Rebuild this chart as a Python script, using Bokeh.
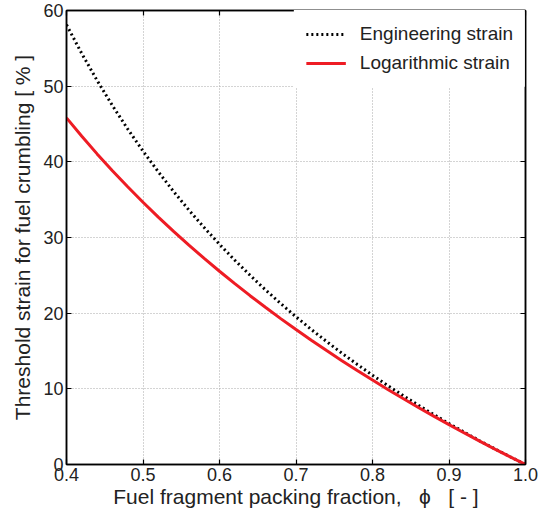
from bokeh.plotting import figure
from bokeh.models import LinearAxis, Range1d, Legend, LegendItem, FixedTicker, CustomJSTickFormatter
from bokeh.embed import file_html
from bokeh.resources import INLINE

phi = [0.40, 0.42, 0.44, 0.46, 0.48, 0.50, 0.52, 0.54, 0.56, 0.58, 0.60,
       0.62, 0.64, 0.66, 0.68, 0.70, 0.72, 0.74, 0.76, 0.78, 0.80,
       0.82, 0.84, 0.86, 0.88, 0.90, 0.92, 0.94, 0.96, 0.98, 1.00]
eng_strain = [58.11, 54.30, 50.76, 47.44, 44.34, 41.42, 38.68, 36.08, 33.63, 31.31, 29.10,
              27.00, 25.00, 23.09, 21.27, 19.52, 17.85, 16.25, 14.71, 13.23, 11.80,
              10.43, 9.11, 7.83, 6.60, 5.41, 4.26, 3.14, 2.06, 1.02, 0.00]
log_strain = [45.81, 43.38, 41.05, 38.83, 36.70, 34.66, 32.70, 30.81, 28.99, 27.24, 25.54,
              23.90, 22.31, 20.78, 19.28, 17.83, 16.43, 15.06, 13.72, 12.42, 11.16,
              9.92, 8.72, 7.54, 6.39, 5.27, 4.17, 3.09, 2.04, 1.01, 0.00]
x_ticks = [0.4, 0.5, 0.6, 0.7, 0.8, 0.9, 1.0]
x_tick_labels = {0.4: "0.4", 0.5: "0.5", 0.6: "0.6", 0.7: "0.7", 0.8: "0.8", 0.9: "0.9", 1.0: "1.0"}
y_ticks = [0, 10, 20, 30, 40, 50, 60]

FONT = "Liberation Sans"
NB = "\u00a0"

p = figure(frame_width=459, frame_height=454, output_backend="svg", toolbar_location=None,
           x_range=Range1d(0.4, 1.0), y_range=Range1d(0, 60),
           min_border_left=66, min_border_right=13, min_border_top=10, min_border_bottom=10)
p.outline_line_color = "black"
p.outline_line_width = 1.5

for ax in (p.xaxis[0], p.yaxis[0]):
    ax.major_tick_in = 5
    ax.major_tick_out = 0
    ax.minor_tick_in = 0
    ax.minor_tick_out = 0
    ax.axis_line_width = 1.5
    ax.major_tick_line_width = 1.2
    ax.major_label_text_font = FONT
    ax.major_label_text_font_size = "18px"
    ax.major_label_text_color = "#222222"
    ax.axis_label_text_font = FONT
    ax.axis_label_text_font_size = "21px"
    ax.axis_label_text_font_style = "normal"
    ax.axis_label_text_color = "#222222"
    ax.major_label_standoff = 3

p.xaxis.ticker = FixedTicker(ticks=x_ticks)
p.xaxis.major_label_overrides = x_tick_labels
p.yaxis.ticker = FixedTicker(ticks=y_ticks)
p.xaxis.axis_label = "Fuel fragment packing fraction," + NB * 3 + "\u03d5" + NB * 3 + "[" + NB + "-" + NB + "]"
p.yaxis.axis_label = "Threshold strain for fuel crumbling [ % ]"
p.xaxis.axis_label_standoff = 1
p.yaxis.axis_label_standoff = 6

for loc, ticks in (("above", x_ticks), ("right", y_ticks)):
    ax = LinearAxis(ticker=FixedTicker(ticks=ticks),
                    formatter=CustomJSTickFormatter(code="return ''"))
    ax.major_tick_in = 5
    ax.major_tick_out = 0
    ax.minor_tick_in = 0
    ax.minor_tick_out = 0
    ax.axis_line_width = 1.5
    ax.major_tick_line_width = 1.2
    ax.major_label_standoff = 0
    p.add_layout(ax, loc)

p.xgrid.ticker = FixedTicker(ticks=x_ticks)
p.ygrid.ticker = FixedTicker(ticks=y_ticks)
p.grid.grid_line_color = "#a8a8a8"
p.grid.grid_line_dash = "1 2"
p.grid.grid_line_width = 1

r_eng = p.line(phi, eng_strain, line_color="black", line_width=3, line_dash="2 3")
r_log = p.line(phi, log_strain, line_color="#ee1c24", line_width=3)

legend = Legend(items=[LegendItem(label="Engineering strain", renderers=[r_eng]),
                       LegendItem(label="Logarithmic strain", renderers=[r_log])],
                location="top_right", margin=0, padding=12, spacing=5,
                glyph_width=40, glyph_height=24, label_height=24, label_standoff=14,
                label_text_font=FONT, label_text_font_size="19px", label_text_color="#222222",
                border_line_alpha=0, background_fill_color="white", background_fill_alpha=1)
p.add_layout(legend)

open("out.html", "w").write(file_html(p, INLINE))
